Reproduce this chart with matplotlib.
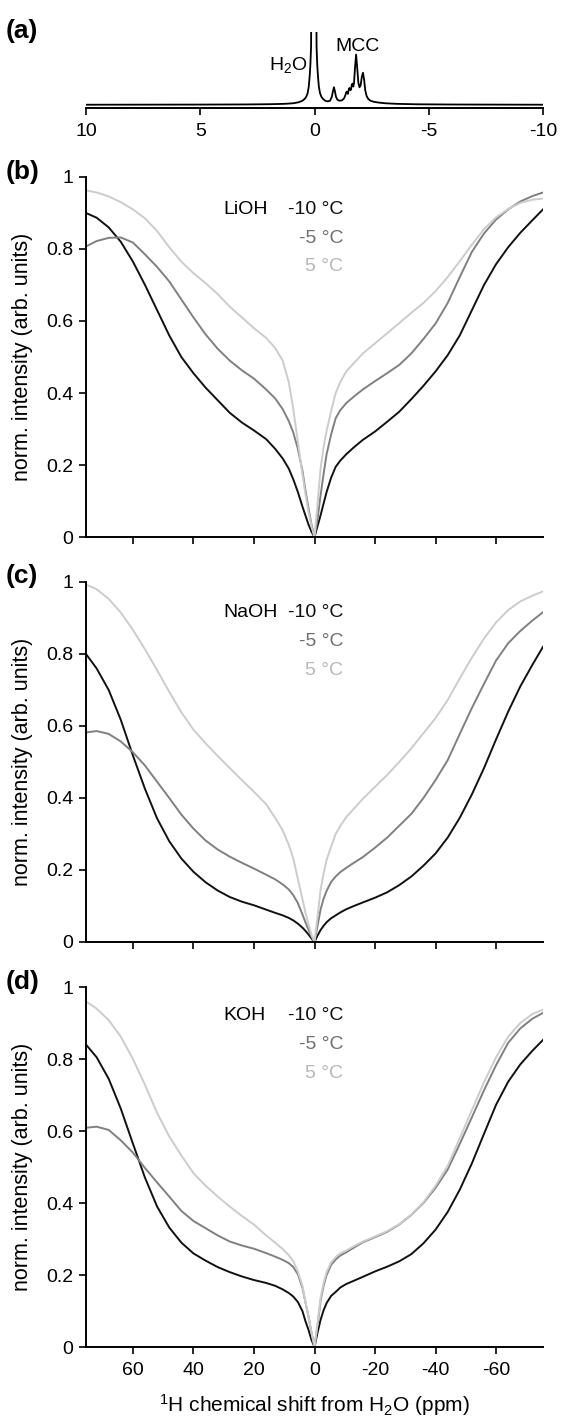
import matplotlib
matplotlib.use("Agg")
import matplotlib.pyplot as plt

plt.rcParams['font.family'] = ['Liberation Sans', 'DejaVu Sans']
plt.rcParams['mathtext.fontset'] = 'custom'
plt.rcParams['mathtext.rm'] = 'Liberation Sans'
plt.rcParams['mathtext.it'] = 'Liberation Sans:italic'
plt.rcParams['mathtext.bf'] = 'Liberation Sans:bold'
plt.rcParams['axes.unicode_minus'] = False

# ---- (a) 1H spectrum (intensity as fraction of panel height)
spec_ppm = [10, 5, 3, 2.0, 1.33, 0.93, 0.68, 0.53, 0.43, 0.36, 0.30, 0.25, 0.21, 0.18, 0.15,
            0.03, -0.09, -0.12, -0.15, -0.19, -0.24, -0.30, -0.37, -0.47, -0.58, -0.68,
            -0.76, -0.81, -0.85, -0.89, -0.94, -1.0, -1.09, -1.2, -1.3, -1.36, -1.4, -1.43,
            -1.46, -1.5, -1.53, -1.57, -1.6, -1.63, -1.66, -1.7, -1.73, -1.77, -1.82, -1.87,
            -1.92, -1.97, -2.02, -2.07, -2.12, -2.17, -2.22, -2.28, -2.35, -2.45, -2.6, -2.8,
            -3.1, -3.6, -4.5, -6, -10]
spec_int = [0.0, 0.002, 0.004, 0.007, 0.012, 0.02, 0.035, 0.055, 0.08, 0.11, 0.16, 0.25, 0.4, 0.55, 0.8,
            8.0, 0.8, 0.55, 0.4, 0.25, 0.16, 0.11, 0.08, 0.055, 0.045, 0.055,
            0.11, 0.19, 0.24, 0.19, 0.11, 0.07, 0.055, 0.06, 0.09, 0.14, 0.18, 0.16,
            0.15, 0.21, 0.23, 0.2, 0.21, 0.27, 0.29, 0.25, 0.3, 0.5, 0.69, 0.5,
            0.3, 0.24, 0.27, 0.38, 0.44, 0.35, 0.2, 0.12, 0.08, 0.055, 0.04, 0.03,
            0.02, 0.012, 0.006, 0.003, 0.0]

# ---- (b)-(d) norm. intensity vs chemical shift (ppm from H2O)
ppm = [75.5, 72, 68, 64, 60, 56, 52, 48, 44, 40, 36, 32, 28, 24, 20,
       16, 13, 10.5, 8.5, 7, 5.5, 4, 3, 2, 1, 0,
       -1, -2, -3, -4, -5.5, -7, -8.5, -10.5, -13, -16,
       -20, -24, -28, -32, -36, -40, -44, -48, -52, -56, -60, -64, -68, -72, -75.5]

lioh_m10 = [0.90, 0.887, 0.86, 0.82, 0.765, 0.70, 0.63, 0.56, 0.50, 0.455, 0.415, 0.38, 0.345, 0.318, 0.296,
            0.272, 0.245, 0.218, 0.19, 0.16, 0.125, 0.085, 0.06, 0.035, 0.015, 0.0,
            0.03, 0.06, 0.093, 0.125, 0.165, 0.195, 0.212, 0.23, 0.249, 0.27,
            0.293, 0.32, 0.348, 0.383, 0.42, 0.46, 0.505, 0.56, 0.63, 0.70, 0.758, 0.805, 0.845, 0.88, 0.91]
lioh_m5 = [0.807, 0.822, 0.831, 0.832, 0.818, 0.785, 0.75, 0.71, 0.66, 0.61, 0.563, 0.523, 0.49, 0.463, 0.44,
           0.41, 0.385, 0.355, 0.322, 0.29, 0.245, 0.185, 0.13, 0.08, 0.035, 0.0,
           0.05, 0.115, 0.175, 0.23, 0.285, 0.33, 0.352, 0.372, 0.39, 0.41,
           0.433, 0.455, 0.478, 0.51, 0.55, 0.593, 0.65, 0.722, 0.792, 0.843, 0.882, 0.91, 0.932, 0.947, 0.957]
lioh_p5 = [0.963, 0.957, 0.946, 0.93, 0.91, 0.885, 0.85, 0.805, 0.765, 0.733, 0.705, 0.675, 0.64, 0.61, 0.58,
           0.553, 0.525, 0.49, 0.43, 0.355, 0.265, 0.175, 0.12, 0.07, 0.03, 0.0,
           0.09, 0.19, 0.25, 0.295, 0.35, 0.40, 0.43, 0.46, 0.483, 0.51,
           0.538, 0.566, 0.594, 0.623, 0.65, 0.683, 0.722, 0.766, 0.812, 0.855, 0.888, 0.911, 0.928, 0.937, 0.94]

naoh_m10 = [0.80, 0.76, 0.70, 0.617, 0.518, 0.425, 0.343, 0.28, 0.232, 0.195, 0.166, 0.143, 0.125, 0.112, 0.102,
            0.09, 0.081, 0.074, 0.067, 0.06, 0.051, 0.04, 0.031, 0.021, 0.01, 0.0,
            0.018, 0.033, 0.045, 0.055, 0.066, 0.074, 0.082, 0.091, 0.1, 0.11,
            0.123, 0.138, 0.158, 0.182, 0.212, 0.246, 0.29, 0.345, 0.41, 0.483, 0.563, 0.64, 0.71, 0.77, 0.82]
naoh_m5 = [0.582, 0.586, 0.578, 0.557, 0.527, 0.49, 0.445, 0.40, 0.354, 0.315, 0.282, 0.257, 0.237, 0.22, 0.204,
           0.187, 0.174, 0.16, 0.146, 0.13, 0.108, 0.077, 0.055, 0.035, 0.015, 0.0,
           0.045, 0.09, 0.12, 0.142, 0.167, 0.182, 0.194, 0.206, 0.22, 0.236,
           0.262, 0.29, 0.323, 0.356, 0.40, 0.45, 0.505, 0.578, 0.65, 0.717, 0.782, 0.83, 0.864, 0.893, 0.916]
naoh_p5 = [0.993, 0.98, 0.953, 0.915, 0.867, 0.813, 0.755, 0.695, 0.638, 0.59, 0.552, 0.517, 0.483, 0.45, 0.417,
           0.383, 0.345, 0.31, 0.27, 0.232, 0.175, 0.12, 0.082, 0.05, 0.02, 0.0,
           0.07, 0.145, 0.19, 0.228, 0.265, 0.30, 0.322, 0.347, 0.37, 0.398,
           0.431, 0.464, 0.50, 0.538, 0.58, 0.622, 0.672, 0.732, 0.79, 0.843, 0.888, 0.922, 0.946, 0.962, 0.974]

koh_m10 = [0.84, 0.805, 0.745, 0.662, 0.565, 0.47, 0.39, 0.332, 0.29, 0.26, 0.24, 0.222, 0.208, 0.196, 0.186,
           0.178, 0.17, 0.16, 0.15, 0.14, 0.125, 0.10, 0.072, 0.048, 0.02, 0.0,
           0.04, 0.075, 0.102, 0.122, 0.142, 0.153, 0.165, 0.175, 0.184, 0.195,
           0.21, 0.223, 0.238, 0.258, 0.288, 0.326, 0.375, 0.437, 0.51, 0.592, 0.673, 0.737, 0.785, 0.823, 0.853]
koh_m5 = [0.609, 0.612, 0.603, 0.574, 0.54, 0.497, 0.457, 0.418, 0.378, 0.35, 0.33, 0.31, 0.293, 0.282, 0.273,
          0.261, 0.251, 0.242, 0.233, 0.222, 0.202, 0.165, 0.125, 0.085, 0.04, 0.0,
          0.06, 0.128, 0.17, 0.20, 0.228, 0.243, 0.254, 0.263, 0.276, 0.291,
          0.305, 0.32, 0.34, 0.367, 0.40, 0.442, 0.493, 0.564, 0.638, 0.713, 0.783, 0.845, 0.885, 0.912, 0.928]
koh_p5 = [0.96, 0.94, 0.908, 0.862, 0.80, 0.728, 0.65, 0.585, 0.532, 0.483, 0.448, 0.418, 0.39, 0.364, 0.34,
          0.31, 0.29, 0.272, 0.255, 0.238, 0.21, 0.17, 0.125, 0.085, 0.04, 0.0,
          0.065, 0.135, 0.178, 0.208, 0.235, 0.25, 0.26, 0.268, 0.28, 0.293,
          0.307, 0.322, 0.341, 0.368, 0.402, 0.448, 0.503, 0.58, 0.658, 0.735, 0.805, 0.862, 0.90, 0.925, 0.937]

temps = ["-10 °C", "-5 °C", "5 °C"]
colors = ["#111111", "#808080", "#cccccc"]
text_colors = ["#111111", "#707070", "#b8b8b8"]

panels = [
    ("LiOH", [lioh_m10, lioh_m5, lioh_p5]),
    ("NaOH", [naoh_m10, naoh_m5, naoh_p5]),
    ("KOH", [koh_m10, koh_m5, koh_p5]),
]

W, H = 572, 1418
fig = plt.figure(figsize=(W / 100, H / 100), dpi=100)


def rect(left, top, right, bottom):
    return [left / W, 1 - bottom / H, (right - left) / W, (bottom - top) / H]


# panel (a)
ax = fig.add_axes(rect(86, 32, 543, 108))
ax.plot(spec_ppm, spec_int, color="k", lw=1.3)
ax.set_xlim(10, -10)
ax.set_ylim(-0.045, 1)
for s in ["left", "right", "top"]:
    ax.spines[s].set_visible(False)
ax.spines["bottom"].set_linewidth(1.4)
ax.set_yticks([])
ax.set_xticks([10, 5, 0, -5, -10])
ax.set_xticklabels(["10", "5", "0", "-5", "-10"])
ax.tick_params(axis="x", direction="out", length=5, width=1.2, labelsize=14, pad=6)
ax.text(0.32, 0.55, r"H$_2$O", ha="right", va="center", fontsize=14)
ax.text(-1.9, 0.8, "MCC", ha="center", va="center", fontsize=14)

# panels (b)-(d)
tops = [177, 582, 987]
legend_y = [0.91, 0.915, 0.92]
for i, (salt, curves) in enumerate(panels):
    top = tops[i]
    ax = fig.add_axes(rect(86, top, 543, top + 360))
    for vals, c in zip(curves, colors):
        ax.plot(ppm, vals, color=c, lw=1.4)
    ax.set_xlim(75.5, -75.5)
    ax.set_ylim(0, 1)
    for s in ["right", "top"]:
        ax.spines[s].set_visible(False)
    for s in ["left", "bottom"]:
        ax.spines[s].set_linewidth(1.4)
    ax.set_xticks([60, 40, 20, 0, -20, -40, -60])
    ax.set_yticks([0, 0.2, 0.4, 0.6, 0.8, 1])
    ax.set_yticklabels(["0", "0.2", "0.4", "0.6", "0.8", "1"])
    ax.tick_params(direction="out", length=5, width=1.2, labelsize=14)
    ax.tick_params(axis="x", pad=6)
    ax.tick_params(axis="y", pad=4)
    if i < 2:
        ax.set_xticklabels([])
    else:
        ax.set_xticklabels(["60", "40", "20", "0", "-20", "-40", "-60"])
        ax.set_xlabel(r"$^1$H chemical shift from H$_2$O (ppm)", fontsize=15)
        ax.xaxis.set_label_coords(0.5, -0.125)
    ax.set_ylabel("norm. intensity (arb. units)", fontsize=15.5)
    ax.yaxis.set_label_coords(-0.115, 0.5)

    y0 = legend_y[i]
    ax.text(30, y0, salt, ha="left", va="center", fontsize=14)
    for k, (t, tc) in enumerate(zip(temps, text_colors)):
        ax.text(-9.5, y0 - 0.08 * k, t, ha="right", va="center", fontsize=14, color=tc)

for lab, ypx in zip(["(a)", "(b)", "(c)", "(d)"], [31, 172, 576, 982]):
    fig.text(6 / W, 1 - ypx / H, lab, ha="left", va="center", fontsize=19, fontweight="bold")

fig.savefig("out.png", dpi=100)
